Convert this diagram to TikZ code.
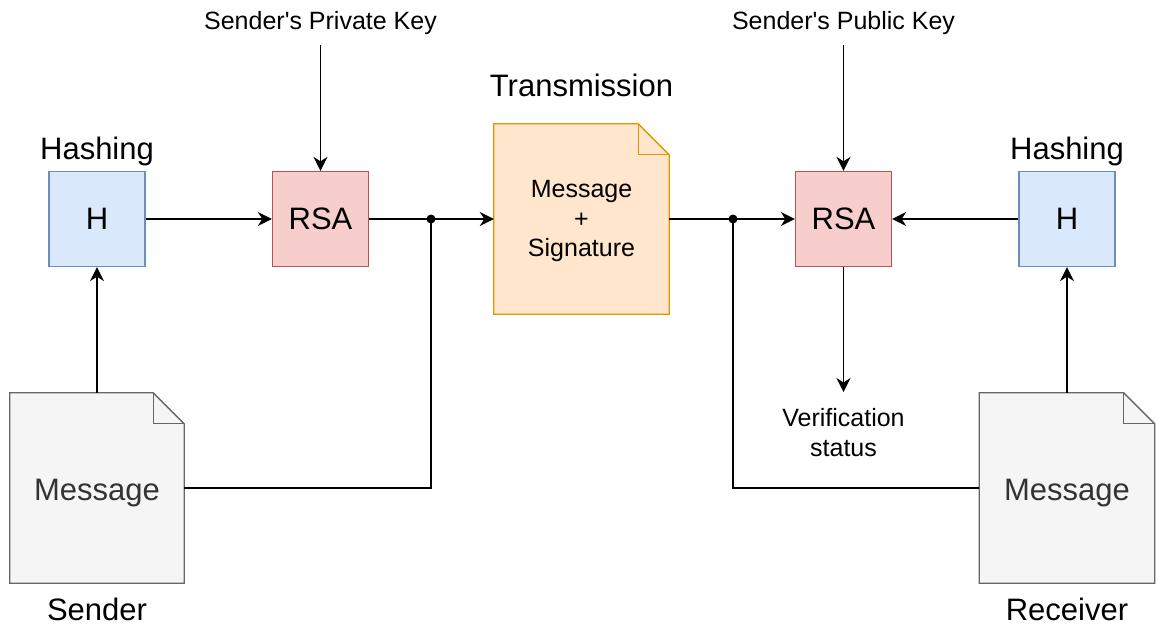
\documentclass[tikz,border=0pt]{standalone}
\usepackage{fontspec}
\setmainfont{Liberation Sans}
\usetikzlibrary{arrows.meta,calc,backgrounds}

\definecolor{hashfill}{HTML}{DAE8FC}
\definecolor{hashline}{HTML}{6C8EBF}
\definecolor{rsafill}{HTML}{F8CECC}
\definecolor{rsaline}{HTML}{B85450}
\definecolor{docfill}{HTML}{F5F5F5}
\definecolor{docline}{HTML}{666666}
\definecolor{doctext}{HTML}{333333}
\definecolor{txfill}{HTML}{FFE6CC}
\definecolor{txline}{HTML}{D79B00}

% sheet with a folded top-right corner, drawn behind node #1
\newcommand\foldeddoc[4]{%
  \begin{scope}[on background layer]
    \draw[line width=1.3pt, draw=#3, fill=#2, line join=miter]
      (#1.north west) -- ($(#1.north east)+(-#4,0)$) -- ($(#1.north east)+(0,#4)$)
      -- (#1.south east) -- (#1.south west) -- cycle;
    \draw[line width=1.3pt, draw=#3, line join=miter]
      ($(#1.north east)+(-#4,0)$) -- ($(#1.north east)+(-#4,#4)$) -- ($(#1.north east)+(0,#4)$);
  \end{scope}}

\begin{document}
\begin{tikzpicture}[x=1pt,y=-1pt,
  big/.style={font=\fontsize{31}{36}\selectfont},
  small/.style={font=\fontsize{25}{29.5}\selectfont},
  block/.style={minimum width=96pt, minimum height=95pt, inner sep=0pt, line width=1.3pt, big},
  hashbox/.style={block, draw=hashline, fill=hashfill},
  rsabox/.style={block, draw=rsaline, fill=rsafill},
  docbox/.style={minimum width=175pt, minimum height=190pt, inner sep=0pt},
  wire/.style={line width=1.8pt, draw=black},
  flow/.style={wire, -{Stealth[length=14pt,width=14pt,inset=4.5pt]}},
  joint/.style={circle, fill=black, inner sep=0pt, minimum size=9pt},
  caption/.style={inner sep=0pt, anchor=base, align=center}
]
\useasboundingbox (0,0) rectangle (1156,626);

% processing blocks
\node[hashbox] (hL) at (97,219) {H};
\node[rsabox] (rsaL) at (320.5,219) {RSA};
\node[rsabox] (rsaR) at (843.5,219) {RSA};
\node[hashbox] (hR) at (1067,219) {H};

% documents
\node[docbox, minimum width=174pt] (msgL) at (97,488) {};
\node[docbox] (msgR) at (1067,488) {};
\node[docbox] (tx) at (581.5,219) {};
\foldeddoc{msgL}{docfill}{docline}{31}
\foldeddoc{msgR}{docfill}{docline}{31}
\foldeddoc{tx}{txfill}{txline}{31}

\node[caption, big, text=doctext] (msgLtxt) at (97,500.5) {Message};
\node[caption, big, text=doctext] (msgRtxt) at (1067,500.5) {Message};
% multi-line captions: base is the last line's baseline
\node[caption, small] (txtxt) at (581.5,256.7) {Message\\+\\Signature};

% captions
\node[caption, big] (hashL) at (97,159.5) {Hashing};
\node[caption, big] (hashR) at (1067,159.5) {Hashing};
\node[caption, big] (trans) at (581.5,96.5) {Transmission};
\node[caption, big] (sender) at (97,620) {Sender};
\node[caption, big] (receiver) at (1067,620) {Receiver};
\node[caption, small] (privKey) at (320.5,30) {Sender\textquotesingle s Private Key};
\node[caption, small] (pubKey) at (843.5,30) {Sender\textquotesingle s Public Key};
\node[caption, small] (verif) at (843.5,456) {Verification\\status};

% free ends and junctions
\coordinate (privTop) at (320.5,45);
\coordinate (pubTop) at (843.5,45);
\coordinate (verifTop) at (843.5,392);
\node[joint] (jL) at (431,219) {};
\node[joint] (jR) at (733,219) {};

% sender side
\draw[flow] (msgL.north) -- (hL.south);
\draw[flow] (hL.east) -- (rsaL.west);
\draw[flow] (privTop) -- (rsaL.north);
\draw[flow] (rsaL.east) -- (tx.west);
\draw[wire] (msgL.east) -| (jL.center);

% receiver side
\draw[flow] (tx.east) -- (rsaR.west);
\draw[wire] (msgR.west) -| (jR.center);
\draw[flow] (pubTop) -- (rsaR.north);
\draw[flow] (hR.west) -- (rsaR.east);
\draw[flow] (msgR.north) -- (hR.south);
\draw[flow] (rsaR.south) -- (verifTop);
\end{tikzpicture}
\end{document}
